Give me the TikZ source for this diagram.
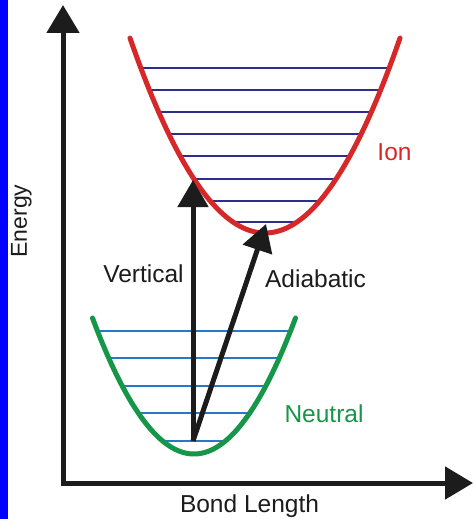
\documentclass[tikz,border=0pt]{standalone}
\usepackage{fontspec}
\setmainfont{Liberation Sans}
\usetikzlibrary{arrows.meta}
\definecolor{ionred}{RGB}{214,40,40}
\definecolor{ionlev}{RGB}{45,45,140}
\definecolor{neugreen}{RGB}{22,150,72}
\definecolor{neulev}{RGB}{40,120,200}
\definecolor{ink}{RGB}{28,28,28}
\definecolor{stripblue}{RGB}{0,0,255}
\tikzset{
  bigtip/.style={-{Triangle[length=28pt,width=32pt]}},
  axisline/.style={draw=ink,line width=5pt,line join=miter},
  transarrow/.style={draw=ink,line width=5pt,-{Triangle[length=27pt,width=30pt]}},
  ioncurve/.style={draw=ionred,line width=5pt,line cap=round},
  neucurve/.style={draw=neugreen,line width=5pt,line cap=round},
  ionlevel/.style={draw=ionlev,line width=2.3pt},
  neulevel/.style={draw=neulev,line width=2.3pt},
  lbl/.style={inner sep=0pt,font=\fontsize{24.5}{28}\selectfont,text=ink,anchor=base}
}
\begin{document}
\begin{tikzpicture}[x=1pt,y=-1pt]
\path[use as bounding box,fill=white] (0,0) rectangle (474,519);
% coordinates
\coordinate (corner) at (63,483);
\coordinate (ytip) at (63,5);
\coordinate (xtip) at (473,483);
\coordinate (ground) at (193,441);
\coordinate (vtip) at (193,180);
\coordinate (atip) at (266,224);
% ion levels
\foreach \yy in {68,90,112,134,156,179,201,222}{
  \pgfmathsetmacro\hw{sqrt((233-\yy)/0.0107)}
  \draw[ionlevel] ({265-\hw},\yy) -- ({265+\hw},\yy);
}
% neutral levels
\foreach \yy in {331,358,386,413,441}{
  \pgfmathsetmacro\hw{sqrt((454-\yy)/0.0132)}
  \draw[neulevel] ({194-\hw},\yy) -- ({194+\hw},\yy);
}
% curves
\draw[ioncurve] plot[domain=130:400,samples=80,smooth] (\x,{233-0.0107*(\x-265)*(\x-265)});
\draw[neucurve] plot[domain=92.5:295.5,samples=80,smooth] (\x,{454-0.0132*(\x-194)*(\x-194)});
% axes
\draw[axisline,{Triangle[length=28pt,width=32pt]}-{Triangle[length=28pt,width=32pt]}] (ytip) -- (corner) -- (xtip);
% transitions
\draw[transarrow] (ground) -- (vtip);
\draw[transarrow] (ground) -- (atip);
% labels
\node[lbl] (vert) at (143.5,282) {Vertical};
\node[lbl] (adia) at (315.5,287) {Adiabatic};
\node[lbl,text=neugreen] (neu) at (324,422) {Neutral};
\node[lbl,text=ionred] (ion) at (394.5,160) {Ion};
\node[lbl] (bond) at (249.5,512) {Bond Length};
\node[lbl,rotate=90,font=\fontsize{23}{26}\selectfont] (energy) at (27,221) {Energy};
% blue strip
\fill[stripblue] (0,0) rectangle (8,519);
\end{tikzpicture}
\end{document}
